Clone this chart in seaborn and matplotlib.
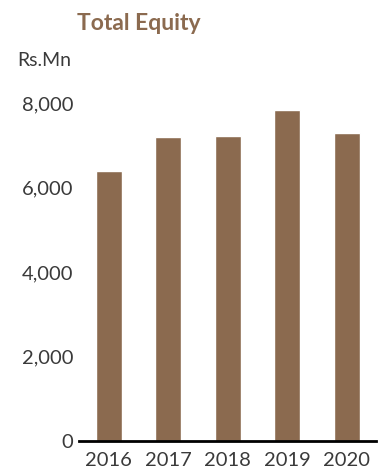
import matplotlib
matplotlib.use("Agg")
import matplotlib.pyplot as plt
import seaborn as sns
import pandas as pd

years = ["2016", "2017", "2018", "2019", "2020"]
equity = [6390, 7195, 7220, 7830, 7290]
yticks = [0, 2000, 4000, 6000, 8000]
ytick_labels = ["0", "2,000", "4,000", "6,000", "8,000"]

sns.set_theme(style="white")
plt.rcParams['font.family'] = ['Lato', 'DejaVu Sans']

df = pd.DataFrame({"year": years, "equity": equity})

fig = plt.figure(figsize=(3.81, 4.70), dpi=100)
ax = fig.add_axes([0.2073, 0.0617, 0.7807, 0.7191])
sns.barplot(data=df, x="year", y="equity", color="#8B6A4F", width=0.44,
            saturation=1, ax=ax)
ax.set_xlim(-0.5, 4.5)
ax.set_ylim(0, 8000)
ax.set_yticks(yticks)
ax.set_yticklabels(ytick_labels, fontsize=14.5, fontweight="normal", color="#3a3a3a")
ax.set_xticklabels(years, fontsize=14.5, fontweight="normal", color="#3a3a3a")
ax.tick_params(axis="both", length=0)
ax.tick_params(axis="y", pad=4)
ax.tick_params(axis="x", pad=8)
ax.set_xlabel("")
ax.set_ylabel("")
for s in ["left", "top", "right"]:
    ax.spines[s].set_visible(False)
ax.spines["bottom"].set_color("black")
ax.spines["bottom"].set_linewidth(2)

fig.text(77/381, 1 - 23/470, "Total Equity", fontsize=16.5, fontweight="bold",
         color="#8B6A4F", ha="left", va="center")
fig.text(17/381, 1 - 60/470, "Rs.Mn", fontsize=14, fontweight="normal",
         color="#3a3a3a", ha="left", va="center")

fig.savefig("out.png", dpi=100)
